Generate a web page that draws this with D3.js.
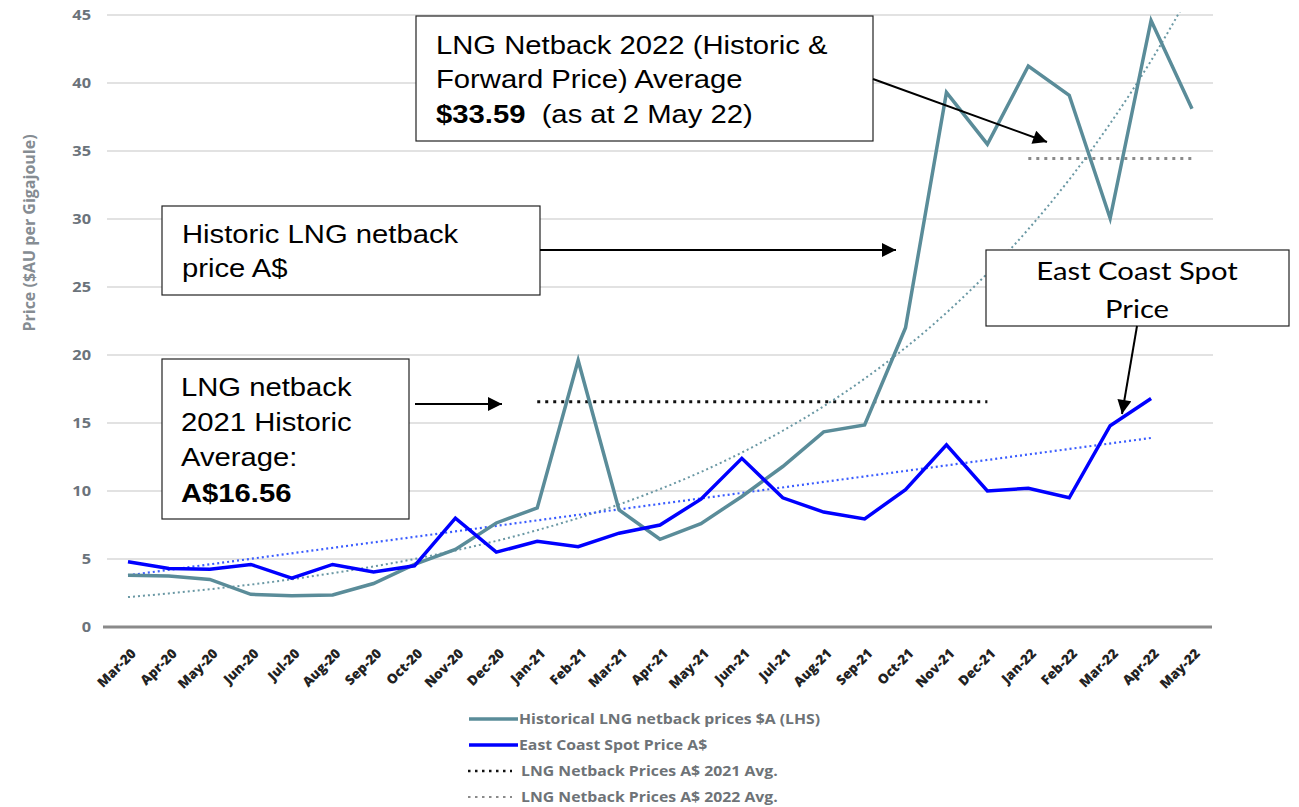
<!DOCTYPE html>
<html lang="en">
    <head>
        <meta charset="UTF-8">
        <title>LNG Netback vs East Coast Spot Price</title>
        <script src="https://d3js.org/d3.v7.min.js"></script>
        <style>
            body {
                margin: 0;
                background: #fff;
            }
            svg {
                display: block;
            }
            .grid line {
                stroke: #e2e2e2;
                stroke-width: 2px;
            }
            .ytick text {
                font-family: "Open Sans", sans-serif;
                font-weight: bold;
                font-size: 14px;
                fill: #6b737b;
            }
            .xtick text {
                font-family: "Open Sans", sans-serif;
                font-weight: 800;
                font-size: 13.5px;
                fill: #222;
            }
            .ytitle {
                font-family: "Open Sans", sans-serif;
                font-weight: bold;
                font-size: 16px;
                fill: #858c92;
            }
            .legend text {
                font-family: "Open Sans", sans-serif;
                font-weight: bold;
                font-size: 13.5px;
                fill: #6e7377;
            }
            .note rect {
                fill: #fff;
                stroke: #222;
                stroke-width: 1.2px;
            }
            .note text {
                font-family: "Liberation Sans", Arial, sans-serif;
                font-size: 25px;
                fill: #000;
            }
            .arrow {
                stroke: #000;
                stroke-width: 2px;
                fill: none;
            }
        </style>
    </head>
    <body>
        <script>
            // ---- data ----
            const months = ["Mar-20", "Apr-20", "May-20", "Jun-20", "Jul-20", "Aug-20", "Sep-20", "Oct-20", "Nov-20", "Dec-20",
                "Jan-21", "Feb-21", "Mar-21", "Apr-21", "May-21", "Jun-21", "Jul-21", "Aug-21", "Sep-21", "Oct-21", "Nov-21", "Dec-21",
                "Jan-22", "Feb-22", "Mar-22", "Apr-22", "May-22"];

            // Historical LNG netback prices $A (LHS)
            const netback = [3.8, 3.75, 3.5, 2.4, 2.3, 2.35, 3.2, 4.6, 5.7, 7.65,
                8.75, 19.6, 8.6, 6.45, 7.6, 9.6, 11.8, 14.35, 14.85, 22.0, 39.3, 35.5,
                41.25, 39.1, 30.05, 44.6, 38.1];

            // East Coast Spot Price A$ (to Apr-22)
            const spot = [4.8, 4.3, 4.25, 4.6, 3.6, 4.6, 4.05, 4.5, 8.0, 5.5,
                6.3, 5.9, 6.9, 7.5, 9.4, 12.4, 9.5, 8.45, 7.95, 10.1, 13.4, 10.0,
                10.2, 9.5, 14.8, 16.8];

            // dotted trend of the netback series (curve as drawn)
            const netbackTrend = [2.2, 2.47, 2.78, 3.12, 3.51, 3.96, 4.45, 5.0, 5.63, 6.33,
                7.12, 8.01, 9.01, 10.14, 11.4, 12.83, 14.43, 16.23, 18.26, 20.54, 23.11, 26.0,
                29.25, 32.9, 37.02, 41.64, 46.85];

            // dotted straight trend of the spot series
            const spotTrendMonths = ["Mar-20", "Apr-22"];
            const spotTrend = [3.8, 13.9];

            // averages
            const avg2021Months = ["Jan-21", "Dec-21"];
            const avg2021 = 16.56;
            const avg2022Months = ["Jan-22", "May-22"];
            const avg2022 = 34.45;

            const yTicks = [0, 5, 10, 15, 20, 25, 30, 35, 40, 45];

            const legendItems = [
                {name: "Historical LNG netback prices $A (LHS)", color: "#5a8c99", dash: null, w: 3.5},
                {name: "East Coast Spot Price A$", color: "#0000ff", dash: null, w: 3.5},
                {name: "LNG Netback Prices A$ 2021 Avg.", color: "#111", dash: "2.5,4.5", w: 2.5},
                {name: "LNG Netback Prices A$ 2022 Avg.", color: "#8a8a8a", dash: "2.5,4.5", w: 2}
            ];

            const width = 1299;
            const height = 807;
            const stretch = 1.17; // the source picture is a little wider than tall

            const svg = d3.select("body").append("svg")
                .attr("width", width)
                .attr("height", height)
                .attr("viewBox", `0 0 ${width} ${height}`);

            //scales
            const xScale = d3.scalePoint()
                .domain(months)
                .range([128, 1192]);
            const yScale = d3.scaleLinear()
                .domain([0, 45])
                .range([627, 15]);

            //gridlines
            svg.append("g").attr("class", "grid")
                .selectAll("line")
                .data(yTicks.filter(d => d > 0))
                .enter()
                .append("line")
                .attr("x1", 107)
                .attr("x2", 1213)
                .attr("y1", d => yScale(d))
                .attr("y2", d => yScale(d));

            //baseline
            svg.append("line")
                .attr("x1", 103).attr("x2", 1212)
                .attr("y1", yScale(0)).attr("y2", yScale(0))
                .attr("stroke", "#8a8a8a")
                .attr("stroke-width", 3);

            //y axis
            const yAxis = d3.axisLeft(yScale).tickValues(yTicks).tickSize(0).tickPadding(0);
            svg.append("g").attr("class", "ytick")
                .attr("transform", "translate(91,0)")
                .call(yAxis)
                .call(g => g.select(".domain").remove())
                .selectAll("text")
                .attr("x", 0)
                .attr("transform", `scale(${stretch},1)`);

            svg.append("text")
                .attr("class", "ytitle")
                .attr("text-anchor", "middle")
                .attr("transform", "translate(35,233) rotate(-90)")
                .text("Price ($AU per Gigajoule)");

            //x axis
            const xAxis = d3.axisBottom(xScale).tickSize(0).tickPadding(0);
            svg.append("g").attr("class", "xtick")
                .attr("transform", "translate(0,642)")
                .call(xAxis)
                .call(g => g.select(".domain").remove())
                .selectAll("text")
                .attr("text-anchor", "end")
                .attr("dy", "0.35em")
                .attr("transform", "translate(5,9) rotate(-45)");

            //clip for trend curve
            svg.append("clipPath").attr("id", "plotClip")
                .append("rect")
                .attr("x", 100).attr("y", 12)
                .attr("width", 1120).attr("height", 620);

            //line generators
            const lineGen = d3.line()
                .x((d, i) => xScale(months[i]))
                .y(d => yScale(d));
            const curveGen = d3.line()
                .x((d, i) => xScale(months[i]))
                .y(d => yScale(d))
                .curve(d3.curveMonotoneX);

            //2021 avg
            svg.append("line")
                .attr("x1", xScale(avg2021Months[0])).attr("x2", xScale(avg2021Months[1]))
                .attr("y1", yScale(avg2021)).attr("y2", yScale(avg2021))
                .attr("stroke", "#111")
                .attr("stroke-width", 3)
                .attr("stroke-dasharray", "3,5");

            //2022 avg
            svg.append("line")
                .attr("x1", xScale(avg2022Months[0])).attr("x2", xScale(avg2022Months[1]))
                .attr("y1", yScale(avg2022)).attr("y2", yScale(avg2022))
                .attr("stroke", "#8a8a8a")
                .attr("stroke-width", 3)
                .attr("stroke-dasharray", "3,5");

            //netback trend
            svg.append("path")
                .datum(netbackTrend)
                .attr("clip-path", "url(#plotClip)")
                .attr("d", curveGen)
                .attr("fill", "none")
                .attr("stroke", "#6a98a4")
                .attr("stroke-width", 2)
                .attr("stroke-dasharray", "2,3");

            //spot trend
            svg.append("line")
                .attr("x1", xScale(spotTrendMonths[0])).attr("x2", xScale(spotTrendMonths[1]))
                .attr("y1", yScale(spotTrend[0])).attr("y2", yScale(spotTrend[1]))
                .attr("stroke", "#3a5cff")
                .attr("stroke-width", 2.2)
                .attr("stroke-dasharray", "2,3");

            //netback line
            svg.append("path")
                .datum(netback)
                .attr("d", lineGen)
                .attr("fill", "none")
                .attr("stroke", "#5a8c99")
                .attr("stroke-width", 3.5);

            //spot line
            svg.append("path")
                .datum(spot)
                .attr("d", lineGen)
                .attr("fill", "none")
                .attr("stroke", "#0000ff")
                .attr("stroke-width", 3.5);

            //legend
            const legend = svg.append("g")
                .attr("class", "legend")
                .selectAll("g")
                .data(legendItems)
                .enter()
                .append("g")
                .attr("transform", (d, i) => `translate(0, ${719 + i * 26})`);

            legend.append("line")
                .attr("x1", d => d.dash ? 468 : 469)
                .attr("x2", d => d.dash ? 512 : 518)
                .attr("stroke", d => d.color)
                .attr("stroke-width", d => d.w)
                .attr("stroke-dasharray", d => d.dash);
            legend.append("text")
                .attr("dy", "0.36em")
                .attr("transform", d => `translate(${d.dash ? 521 : 519},0) scale(${stretch},1)`)
                .text(d => d.name);

            //arrow head
            svg.append("defs").append("marker")
                .attr("id", "head")
                .attr("viewBox", "0 0 10 10")
                .attr("refX", 10).attr("refY", 5)
                .attr("markerWidth", 16).attr("markerHeight", 14)
                .attr("markerUnits", "userSpaceOnUse")
                .attr("orient", "auto")
                .append("path")
                .attr("d", "M0,0 L10,5 L0,10 z")
                .attr("fill", "#000");

            //annotation boxes
            const notes = [
                {x: 416, y: 16, w: 457, h: 125, lines: [
                    {t: [["LNG Netback 2022 (Historic &", false]], y: 54},
                    {t: [["Forward Price) Average", false]], y: 88},
                    {t: [["$33.59", true], ["  (as at 2 May 22)", false]], y: 123}], tx: 436},
                {x: 162, y: 206, w: 378, h: 89, lines: [
                    {t: [["Historic LNG netback", false]], y: 243},
                    {t: [["price A$", false]], y: 277}], tx: 182},
                {x: 162, y: 359, w: 247, h: 160, lines: [
                    {t: [["LNG netback", false]], y: 396},
                    {t: [["2021 Historic", false]], y: 431},
                    {t: [["Average:", false]], y: 466},
                    {t: [["A$16.56", true]], y: 502}], tx: 181}
            ];

            notes.forEach(n => {
                const g = svg.append("g").attr("class", "note");
                g.append("rect")
                    .attr("x", n.x).attr("y", n.y)
                    .attr("width", n.w).attr("height", n.h);
                n.lines.forEach(l => {
                    const t = g.append("text")
                        .attr("transform", `translate(${n.tx},${l.y}) scale(${stretch},1)`)
                        .attr("xml:space", "preserve");
                    l.t.forEach(s => {
                        t.append("tspan")
                            .attr("font-weight", s[1] ? "bold" : "normal")
                            .text(s[0]);
                    });
                });
            });

            //east coast spot box
            const ec = svg.append("g").attr("class", "note");
            ec.append("rect")
                .attr("x", 986).attr("y", 250)
                .attr("width", 303).attr("height", 76);
            ec.selectAll("text.ec")
                .data(["East Coast Spot", "Price"])
                .enter()
                .append("text")
                .attr("transform", (d, i) => `translate(1137,${280 + i * 38}) scale(${stretch},1)`)
                .attr("text-anchor", "middle")
                .style("font-family", "Lato, 'Open Sans', sans-serif")
                .style("font-size", "25px")
                .text(d => d);

            //arrows
            const arrows = [
                [[873, 79], [1047, 142]],
                [[540, 250], [896, 250]],
                [[415, 404], [502, 404]],
                [[1137, 326], [1122, 414]]
            ];
            svg.append("g")
                .selectAll("line")
                .data(arrows)
                .enter()
                .append("line")
                .attr("class", "arrow")
                .attr("x1", d => d[0][0]).attr("y1", d => d[0][1])
                .attr("x2", d => d[1][0]).attr("y2", d => d[1][1])
                .attr("marker-end", "url(#head)");
        </script>
    </body>
</html>
